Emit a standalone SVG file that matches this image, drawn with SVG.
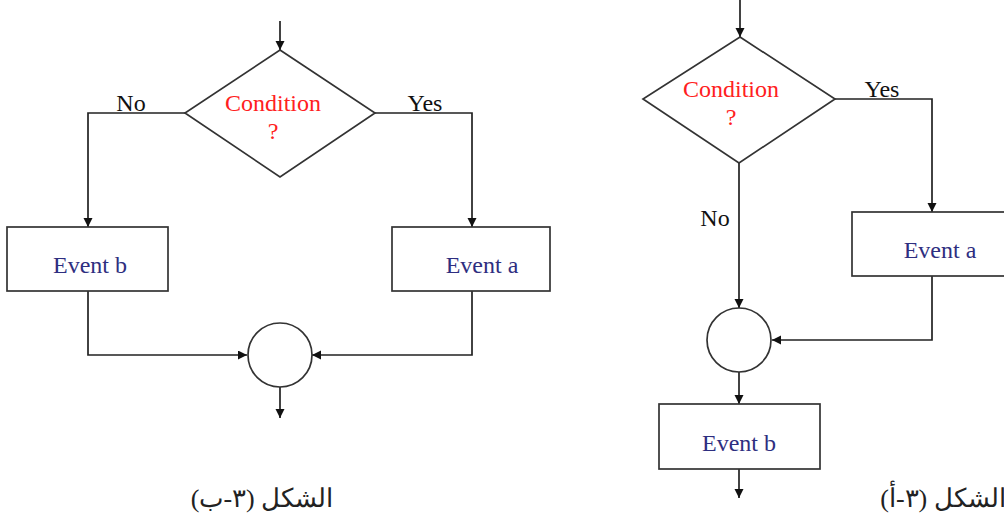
<svg xmlns="http://www.w3.org/2000/svg" width="1004" height="523" viewBox="0 0 1004 523">
<style>
.ln{fill:none;stroke:#222;stroke-width:1.7}
.shp{fill:#fff;stroke:#333;stroke-width:1.7}
text{font-family:'Liberation Serif','Times New Roman','DejaVu Serif',serif}
.cond{font-size:24px;fill:#ff2020;text-anchor:middle}
.ev{font-size:24px;fill:#2e2e80;text-anchor:middle}
.lbl{font-size:24px;fill:#111;text-anchor:middle}
.cap{font-size:26px;fill:#222;text-anchor:middle}
</style>
<defs>
<marker id="ah" markerUnits="userSpaceOnUse" markerWidth="10" markerHeight="10" refX="9" refY="4.5" orient="auto">
<path d="M0,0 L9,4.5 L0,9 z" fill="#111"/>
</marker>
</defs>
<rect width="1004" height="523" fill="#fff"/>

<g id="connectors">
<path class="ln" d="M280,21 V50" marker-end="url(#ah)"/>
<path class="ln" d="M185,113 H88 V227" marker-end="url(#ah)"/>
<path class="ln" d="M375,113 H472 V227" marker-end="url(#ah)"/>
<path class="ln" d="M88,291 V355 H247" marker-end="url(#ah)"/>
<path class="ln" d="M472,291 V355 H312" marker-end="url(#ah)"/>
<path class="ln" d="M280,387 V418" marker-end="url(#ah)"/>
<path class="ln" d="M740,0 V37" marker-end="url(#ah)"/>
<path class="ln" d="M835,99 H932 V212" marker-end="url(#ah)"/>
<path class="ln" d="M739,163 V308" marker-end="url(#ah)"/>
<path class="ln" d="M932,276 V340 H772" marker-end="url(#ah)"/>
<path class="ln" d="M739,372 V404" marker-end="url(#ah)"/>
<path class="ln" d="M739,469 V498" marker-end="url(#ah)"/>
<text class="lbl" x="131" y="111">No</text>
<text class="lbl" x="425" y="111">Yes</text>
<text class="lbl" x="882" y="97">Yes</text>
<text class="lbl" x="715" y="226">No</text>
</g>

<g id="b-condition">
<polygon class="shp" points="280,50 375,113 280,177 185,113"/>
<text class="cond" x="273" y="111">Condition</text>
<text class="cond" x="273" y="139">?</text>
</g>
<g id="b-event-b">
<rect class="shp" x="7" y="227" width="161" height="64"/>
<text class="ev" x="90" y="273">Event b</text>
</g>
<g id="b-event-a">
<rect class="shp" x="392" y="227" width="158" height="64"/>
<text class="ev" x="482" y="273">Event a</text>
</g>
<g id="b-join">
<circle class="shp" cx="280" cy="355" r="32"/>
</g>

<g id="a-condition">
<polygon class="shp" points="740,37 835,99 739,163 643,99"/>
<text class="cond" x="731" y="97">Condition</text>
<text class="cond" x="731" y="125">?</text>
</g>
<g id="a-event-a">
<rect class="shp" x="852" y="212" width="160" height="64"/>
<text class="ev" x="940" y="258">Event a</text>
</g>
<g id="a-join">
<circle class="shp" cx="739" cy="340" r="32"/>
</g>
<g id="a-event-b">
<rect class="shp" x="659" y="404" width="161" height="65"/>
<text class="ev" x="739" y="451">Event b</text>
</g>

<text class="cap" x="262" y="507">الشكل (٣-ب)</text>
<text class="cap" x="943" y="507">الشكل (٣-أ)</text>
</svg>
